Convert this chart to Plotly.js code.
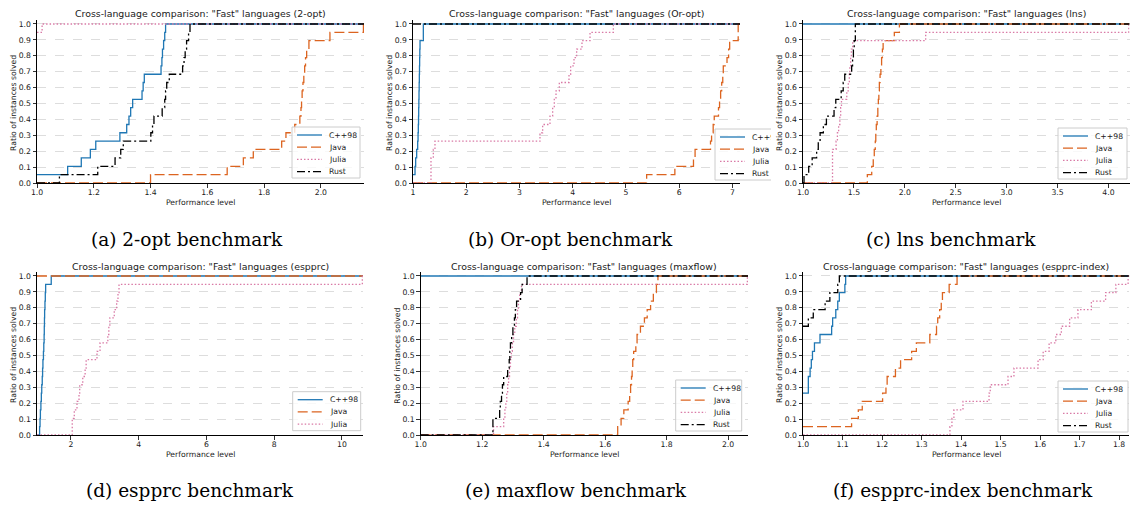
<!DOCTYPE html>
<html><head><meta charset="utf-8">
<script src="https://cdn.plot.ly/plotly-3.0.1.min.js"></script>
<style>html,body{margin:0;padding:0;background:#fff}#chart{width:1130px;height:506px}</style>
</head><body><div id="chart"></div>
<script>
// ---------------- DATA ----------------
const languages = ['C++98', 'Java', 'Julia', 'Rust'];
const benchmarks = ['2-opt', 'Or-opt', 'lns', 'espprc', 'maxflow', 'espprc-index'];
const captions = ['(a) 2-opt benchmark', '(b) Or-opt benchmark', '(c) lns benchmark',
                  '(d) espprc benchmark', '(e) maxflow benchmark', '(f) espprc-index benchmark'];

const yticks = [0.0, 0.1, 0.2, 0.3, 0.4, 0.5, 0.6, 0.7, 0.8, 0.9, 1.0];
const yticklabels = ['0.0','0.1','0.2','0.3','0.4','0.5','0.6','0.7','0.8','0.9','1.0'];
const xticks_2opt = [1.0, 1.2, 1.4, 1.6, 1.8, 2.0];
const xticklabels_2opt = ['1.0','1.2','1.4','1.6','1.8','2.0'];
const xticks_oropt = [1, 2, 3, 4, 5, 6, 7];
const xticklabels_oropt = ['1','2','3','4','5','6','7'];
const xticks_lns = [1.0, 1.5, 2.0, 2.5, 3.0, 3.5, 4.0];
const xticklabels_lns = ['1.0','1.5','2.0','2.5','3.0','3.5','4.0'];
const xticks_espprc = [2, 4, 6, 8, 10];
const xticklabels_espprc = ['2','4','6','8','10'];
const xticks_maxflow = [1.0, 1.2, 1.4, 1.6, 1.8, 2.0];
const xticklabels_maxflow = ['1.0','1.2','1.4','1.6','1.8','2.0'];
const xticks_index = [1.0, 1.1, 1.2, 1.3, 1.4, 1.5, 1.6, 1.7, 1.8];
const xticklabels_index = ['1.0','1.1','1.2','1.3','1.4','1.5','1.6','1.7','1.8'];

// x-range maxima (largest performance level of each benchmark)
const maxLevel = [2.152, 7.144, 4.207, 10.62, 2.065, 1.826];

// (a) 2-opt
const opt2_cpp_x  = [1.0,1.108,1.156,1.188,1.207,1.292,1.316,1.324,1.330,1.337,1.370,1.374,1.378,1.437,1.440,1.442,1.446,1.450,1.453];
const opt2_cpp_y  = [0.053,0.105,0.158,0.211,0.263,0.316,0.368,0.421,0.474,0.526,0.579,0.632,0.684,0.737,0.789,0.842,0.895,0.947,1.0];
const opt2_java_x = [1.0,1.40,1.670,1.727,1.762,1.862,1.877,1.908,1.926,1.930,1.932,1.934,1.937,1.940,1.943,1.946,1.950,1.958,2.032,2.150];
const opt2_java_y = [0,0.053,0.105,0.158,0.211,0.263,0.316,0.368,0.421,0.474,0.526,0.579,0.632,0.684,0.737,0.789,0.842,0.895,0.947,1.0];
const opt2_julia_x = [1.0,1.018];
const opt2_julia_y = [0.947,1.0];
const opt2_rust_x = [1.0,1.079,1.214,1.275,1.295,1.304,1.401,1.407,1.412,1.441,1.450,1.453,1.457,1.466,1.513,1.518,1.522,1.527,1.534,1.539];
const opt2_rust_y = [0,0.053,0.105,0.158,0.211,0.263,0.316,0.368,0.421,0.474,0.526,0.579,0.632,0.684,0.737,0.789,0.842,0.895,0.947,1.0];

// (b) Or-opt
const oropt_cpp_x  = [1.0,1.038,1.050,1.069,1.088,1.095,1.100,1.104,1.107,1.110,1.113,1.116,1.119,1.122,1.125,1.128,1.132,1.194];
const oropt_cpp_y  = [0.053,0.105,0.158,0.211,0.263,0.316,0.368,0.421,0.474,0.526,0.579,0.632,0.684,0.737,0.789,0.842,0.895,1.0];
const oropt_java_x = [1.0,5.39,5.92,6.27,6.30,6.59,6.61,6.64,6.66,6.74,6.76,6.78,6.80,6.82,6.83,6.90,6.93,6.95,7.11];
const oropt_java_y = [0,0.053,0.105,0.158,0.211,0.263,0.316,0.368,0.421,0.474,0.526,0.579,0.632,0.684,0.737,0.789,0.842,0.895,1.0];
const oropt_julia_x = [1.0,1.338,1.382,1.413,3.386,3.436,3.574,3.624,3.655,3.687,3.749,3.931,3.962,4.025,4.075,4.175,4.326,4.764];
const oropt_julia_y = [0,0.158,0.211,0.263,0.316,0.368,0.421,0.474,0.526,0.579,0.632,0.684,0.737,0.789,0.842,0.895,0.947,1.0];
const oropt_rust_x = [1.0];
const oropt_rust_y = [1.0];

// (c) lns
const lns_cpp_x  = [1.0];
const lns_cpp_y  = [1.0];
const lns_java_x = [1.0,1.632,1.675,1.690,1.700,1.710,1.715,1.720,1.728,1.735,1.740,1.745,1.750,1.757,1.765,1.772,1.780,1.787,1.897,1.947];
const lns_java_y = [0,0.053,0.105,0.158,0.211,0.263,0.316,0.368,0.421,0.474,0.526,0.579,0.632,0.684,0.737,0.789,0.842,0.895,0.947,1.0];
const lns_julia_x = [1.0,1.290,1.325,1.338,1.350,1.362,1.370,1.378,1.430,1.445,1.455,1.460,1.468,1.475,1.488,2.205,4.200];
const lns_julia_y = [0,0.211,0.263,0.316,0.368,0.421,0.474,0.526,0.579,0.632,0.684,0.737,0.789,0.842,0.895,0.947,1.0];
const lns_rust_x = [1.0,1.010,1.056,1.090,1.134,1.150,1.168,1.200,1.230,1.305,1.322,1.375,1.395,1.410,1.478,1.487,1.495,1.503,1.514];
const lns_rust_y = [0,0.053,0.105,0.158,0.211,0.263,0.316,0.368,0.421,0.474,0.526,0.579,0.632,0.684,0.737,0.789,0.842,0.895,1.0];

// (d) espprc
const espprc_cpp_x  = [1.0,1.077,1.090,1.100,1.115,1.128,1.140,1.155,1.165,1.175,1.190,1.200,1.210,1.215,1.220,1.225,1.235,1.245,1.255,1.420];
const espprc_cpp_y  = [0,0.053,0.105,0.158,0.211,0.263,0.316,0.368,0.421,0.474,0.526,0.579,0.632,0.684,0.737,0.789,0.842,0.895,0.947,1.0];
const espprc_java_x = [1.0];
const espprc_java_y = [1.0];
const espprc_julia_x = [1.0,2.04,2.10,2.18,2.24,2.26,2.35,2.42,2.45,2.77,2.86,3.09,3.12,3.15,3.28,3.35,3.39,3.42,10.6];
const espprc_julia_y = [0,0.105,0.158,0.211,0.263,0.316,0.368,0.421,0.474,0.526,0.579,0.632,0.684,0.737,0.789,0.842,0.895,0.947,1.0];

// (e) maxflow
const maxflow_cpp_x  = [1.0];
const maxflow_cpp_y  = [1.0];
const maxflow_java_x = [1.0,1.641,1.652,1.661,1.675,1.680,1.683,1.686,1.688,1.690,1.693,1.700,1.704,1.715,1.728,1.737,1.748,1.757,1.767,1.772];
const maxflow_java_y = [0,0.053,0.105,0.158,0.211,0.263,0.316,0.368,0.421,0.474,0.526,0.579,0.632,0.684,0.737,0.789,0.842,0.895,0.947,1.0];
const maxflow_julia_x = [1.0,1.237,1.270,1.274,1.277,1.280,1.283,1.286,1.289,1.292,1.295,1.298,1.302,1.306,1.311,1.315,1.318,1.322,1.328,2.063];
const maxflow_julia_y = [0,0.053,0.105,0.158,0.211,0.263,0.316,0.368,0.421,0.474,0.526,0.579,0.632,0.684,0.737,0.789,0.842,0.895,0.947,1.0];
const maxflow_rust_x = [1.0,1.235,1.257,1.259,1.263,1.266,1.270,1.283,1.288,1.290,1.292,1.296,1.300,1.305,1.308,1.312,1.325,1.330,1.346];
const maxflow_rust_y = [0,0.105,0.158,0.211,0.263,0.316,0.368,0.421,0.474,0.526,0.579,0.632,0.684,0.737,0.789,0.842,0.895,0.947,1.0];

// (f) espprc-index
const index_cpp_x  = [1.0,1.0135,1.018,1.021,1.024,1.029,1.043,1.0725,1.075,1.083,1.088,1.092,1.106,1.108];
const index_cpp_y  = [0.263,0.368,0.421,0.474,0.526,0.579,0.632,0.684,0.737,0.789,0.842,0.895,0.947,1.0];
const index_java_x = [1.0,1.123,1.140,1.150,1.2015,1.210,1.213,1.234,1.247,1.275,1.287,1.321,1.338,1.341,1.346,1.350,1.353,1.370,1.390];
const index_java_y = [0.053,0.105,0.158,0.211,0.263,0.316,0.368,0.421,0.474,0.526,0.579,0.632,0.684,0.737,0.789,0.842,0.895,0.947,1.0];
const index_julia_x = [1.0,1.372,1.377,1.382,1.405,1.471,1.474,1.519,1.534,1.595,1.608,1.623,1.640,1.654,1.675,1.696,1.730,1.766,1.792,1.823];
const index_julia_y = [0,0.053,0.105,0.158,0.211,0.263,0.316,0.368,0.421,0.474,0.526,0.579,0.632,0.684,0.737,0.789,0.842,0.895,0.947,1.0];
const index_rust_x = [1.0,1.0135,1.026,1.056,1.068,1.088,1.092];
const index_rust_y = [0.684,0.737,0.789,0.842,0.895,0.947,1.0];

// ---------------- LAYOUT / STYLE ----------------
const W = 1130, H = 506;
const px = v => v / W;
const py = v => 1 - v / H;

const style = {
  'C++98': {color: '#1f77b4', dash: 'solid', width: 1.3},
  'Java':  {color: '#dc6420', dash: '10px,4px', width: 1.3},
  'Julia': {color: '#d97aa6', dash: '1.5px,2px', width: 1.3},
  'Rust':  {color: '#000000', dash: '8px,3px,2px,3px', width: 1.3}
};

const panels = [
  {L:37,    R:364,    T:20,  B:183, tv:xticks_2opt,    tt:xticklabels_2opt,    leg:[292,127,68],   cx:187, cy:240,
   series:[[opt2_cpp_x,opt2_cpp_y],[opt2_java_x,opt2_java_y],[opt2_julia_x,opt2_julia_y],[opt2_rust_x,opt2_rust_y]], langs:[0,1,2,3]},
  {L:413,   R:740,    T:20,  B:183, tv:xticks_oropt,   tt:xticklabels_oropt,   leg:[715,129,68],   cx:570, cy:240,
   series:[[oropt_cpp_x,oropt_cpp_y],[oropt_java_x,oropt_java_y],[oropt_julia_x,oropt_julia_y],[oropt_rust_x,oropt_rust_y]], langs:[0,1,2,3]},
  {L:803,   R:1129.5, T:20,  B:183, tv:xticks_lns,     tt:xticklabels_lns,     leg:[1058,128,69],  cx:951, cy:240,
   series:[[lns_cpp_x,lns_cpp_y],[lns_java_x,lns_java_y],[lns_julia_x,lns_julia_y],[lns_rust_x,lns_rust_y]], langs:[0,1,2,3]},
  {L:37,    R:363,    T:272, B:435, tv:xticks_espprc,  tt:xticklabels_espprc,  leg:[292.7,391.7,68], cx:190, cy:490,
   series:[[espprc_cpp_x,espprc_cpp_y],[espprc_java_x,espprc_java_y],[espprc_julia_x,espprc_julia_y]], langs:[0,1,2]},
  {L:420.7, R:748,    T:272, B:435, tv:xticks_maxflow, tt:xticklabels_maxflow, leg:[675.7,380,66], cx:576, cy:490,
   series:[[maxflow_cpp_x,maxflow_cpp_y],[maxflow_java_x,maxflow_java_y],[maxflow_julia_x,maxflow_julia_y],[maxflow_rust_x,maxflow_rust_y]], langs:[0,1,2,3]},
  {L:803,   R:1129.3, T:272, B:435, tv:xticks_index,   tt:xticklabels_index,   leg:[1058,381,70],  cx:963, cy:490,
   series:[[index_cpp_x,index_cpp_y],[index_java_x,index_java_y],[index_julia_x,index_julia_y],[index_rust_x,index_rust_y]], langs:[0,1,2,3]}
];

const SANS = 'DejaVu Sans, Verdana, sans-serif';
const TXT = '#1a1a1a';
const traces = [];
const layout = {
  width: W, height: H, margin: {l:0, r:0, t:0, b:0},
  paper_bgcolor: '#fff', plot_bgcolor: '#fff', showlegend: false,
  shapes: [], annotations: []
};
const lateAnnotations = [];

panels.forEach((p, i) => {
  const k = i + 1;
  const xa = 'x' + k, ya = 'y' + k;
  const xmax = maxLevel[i];
  layout['xaxis' + k] = {
    domain: [px(p.L), px(p.R)], range: [1.0, xmax], anchor: ya,
    showline: true, linecolor: '#000', linewidth: 1, mirror: false,
    ticks: 'outside', ticklen: 3.5, tickwidth: 0.8, tickcolor: '#000',
    ticklabelstandoff: -2,
    tickmode: 'array', tickvals: p.tv, ticktext: p.tt,
    tickfont: {family: SANS, size: 7.7, color: TXT},
    showgrid: false, zeroline: false, fixedrange: true
  };
  layout['yaxis' + k] = {
    domain: [py(p.B), py(p.T)], range: [0, 1.025], anchor: xa,
    showline: true, linecolor: '#000', linewidth: 1, mirror: false,
    ticks: 'outside', ticklen: 3.5, tickwidth: 0.8, tickcolor: '#000',
    tickmode: 'array', tickvals: yticks, ticktext: yticklabels,
    tickfont: {family: SANS, size: 7.7, color: TXT},
    showgrid: true, gridcolor: '#d4d4d4', gridwidth: 0.8, griddash: 'dash',
    zeroline: false, fixedrange: true
  };

  p.series.forEach((s, j) => {
    const lang = languages[p.langs[j]];
    const st = style[lang];
    const xs = s[0].slice(), ys = s[1].slice();
    if (xs[xs.length - 1] < xmax) { xs.push(xmax); ys.push(ys[ys.length - 1]); }
    traces.push({
      x: xs, y: ys, xaxis: xa, yaxis: ya, mode: 'lines', name: lang,
      line: {shape: 'hv', color: st.color, dash: st.dash, width: st.width},
      hoverinfo: 'skip', showlegend: false
    });
  });

  // subplot title
  layout.annotations.push({
    text: 'Cross-language comparison: "Fast" languages (' + benchmarks[i] + ')',
    xref: 'paper', yref: 'paper', x: px((p.L + p.R) / 2), y: py(p.T - 6),
    xanchor: 'center', yanchor: 'middle', showarrow: false,
    font: {family: SANS, size: 9.4, color: TXT}
  });

  // legend box (drawn manually to match compact matplotlib legend)
  const [lx, ly, lw] = p.leg;
  const n = p.langs.length;
  const lh = n === 4 ? 51 : 39;
  layout.shapes.push({
    type: 'rect', xref: 'paper', yref: 'paper', layer: 'above',
    x0: px(lx), x1: px(lx + lw), y0: py(ly + lh), y1: py(ly),
    fillcolor: 'rgba(255,255,255,0.8)', line: {color: '#cccccc', width: 1}
  });
  p.langs.forEach((li, r) => {
    const lang = languages[li];
    const st = style[lang];
    const yy = ly + 8 + r * 12.2;
    layout.shapes.push({
      type: 'line', xref: 'paper', yref: 'paper', layer: 'above',
      x0: px(lx + 5), x1: px(lx + 30), y0: py(yy), y1: py(yy),
      line: {color: st.color, dash: st.dash, width: st.width}
    });
    layout.annotations.push({
      text: lang, xref: 'paper', yref: 'paper', x: px(lx + 35), y: py(yy),
      xanchor: 'left', yanchor: 'middle', showarrow: false,
      font: {family: SANS, size: 7.7, color: TXT}
    });
  });

  // caption
  layout.annotations.push({
    text: captions[i], xref: 'paper', yref: 'paper', x: px(p.cx), y: py(p.cy),
    xanchor: 'center', yanchor: 'middle', showarrow: false,
    font: {family: 'DejaVu Serif, Liberation Serif, serif', size: 18.5, color: '#000'}
  });

  // axis titles (drawn after the cover so they stay visible)
  lateAnnotations.push({
    text: 'Performance level', xref: 'paper', yref: 'paper',
    x: px((p.L + p.R) / 2), y: py(p.B + 19.5), xanchor: 'center', yanchor: 'middle',
    showarrow: false, font: {family: SANS, size: 7.7, color: TXT}
  });
  lateAnnotations.push({
    text: 'Ratio of instances solved', xref: 'paper', yref: 'paper', textangle: -90,
    x: px(p.L - 23.5), y: py((p.T + 4 + p.B) / 2), xanchor: 'center', yanchor: 'middle',
    showarrow: false, font: {family: SANS, size: 7.7, color: TXT}
  });
});

// white cover: panel (c)'s figure overlaps the right part of panel (b)'s legend
layout.annotations.push({
  text: ' ', xref: 'paper', yref: 'paper', x: px(771), y: py(155),
  xanchor: 'left', yanchor: 'middle', showarrow: false,
  width: 14, height: 60, bgcolor: '#ffffff', borderpad: 0, borderwidth: 0
});
layout.annotations = layout.annotations.concat(lateAnnotations);

Plotly.newPlot('chart', traces, layout, {staticPlot: true, displayModeBar: false});
</script>
</body></html>
